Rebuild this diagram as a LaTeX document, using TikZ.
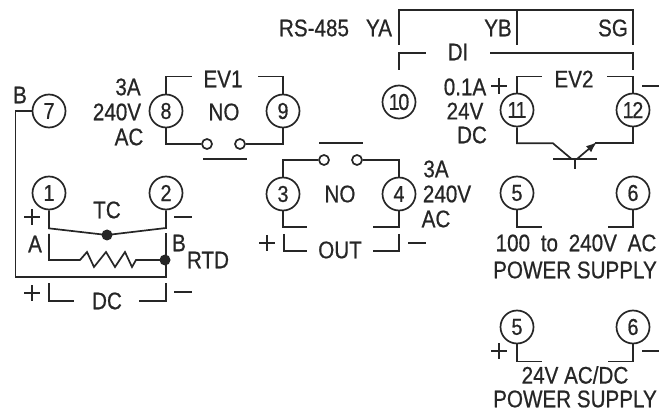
\documentclass[tikz,border=0pt]{standalone}
\usepackage{fontspec}
\usetikzlibrary{arrows.meta}
\setmainfont[FakeStretch=0.86,FakeBold=0.6]{Liberation Sans}
\tikzset{
  wire/.style={line width=1.7pt,draw=black!85,line join=miter},
  term/.style={circle,draw=black!85,line width=1.7pt,minimum size=33pt,inner sep=0pt,font=\fontsize{23}{23}\selectfont,text=black!85},
  tight/.style={font=\fontsize{23}{23}\selectfont\addfontfeatures{LetterSpace=-6}},
  contact/.style={circle,draw=black!85,line width=1.7pt,minimum size=10pt,inner sep=0pt},
  dotnode/.style={circle,fill=black!85,minimum size=11pt,inner sep=0pt},
  lab/.style={inner sep=0pt,font=\fontsize{24}{24}\selectfont,text=black!85},
  plusmark/.style={insert path={++(-8,0) -- ++(16,0) ++(-8,-8) -- ++(0,16)}},
}
\begin{document}
\begin{tikzpicture}[x=1pt,y=-1pt]
\useasboundingbox (0,0) rectangle (660,411);
% terminals
\node[term] (n7) at (49,111) {7};
\node[term] (n8) at (166,111) {8};
\node[term] (n9) at (283,111) {9};
\node[term,tight] (n10) at (399,102) {10};
\node[term,tight] (n11) at (517,110) {11};
\node[term,tight] (n12) at (633,110) {12};
\node[term] (n1) at (49,193) {1};
\node[term] (n2) at (166,193) {2};
\node[term] (n3) at (283,194) {3};
\node[term] (n4) at (399,194) {4};
\node[term] (n5) at (517,193) {5};
\node[term] (n6) at (633,193) {6};
\node[term] (m5) at (517,327) {5};
\node[term] (m6) at (633,327) {6};
% contacts and dots
\node[contact] (ca) at (207,144) {};
\node[contact] (cb) at (240,144) {};
\node[contact] (cc) at (324,160) {};
\node[contact] (cd) at (357,160) {};
\node[dotnode] (dtc) at (107,235) {};
\node[dotnode] (drtd) at (165,260) {};
% labels
\node[lab] at (314,28) {RS-485};
\node[lab] at (379,28) {YA};
\node[lab] at (498,28) {YB};
\node[lab] at (613,28) {SG};
\node[lab] at (458,52) {DI};
\node[lab] at (465,87) {0.1A};
\node[lab] at (465,111) {24V};
\node[lab] at (472,135) {DC};
\node[lab] at (574,79) {EV2};
\node[lab] at (436,169) {3A};
\node[lab] at (447,194) {240V};
\node[lab] at (436,219) {AC};
\node[lab] at (340,194) {NO};
\node[lab] at (340,250) {OUT};
\node[lab] at (576,243) {100\hspace{5pt} to\hspace{5pt} 240V\hspace{5pt} AC};
\node[lab] at (575,270) {POWER SUPPLY};
\node[lab] at (575,375) {24V AC/DC};
\node[lab] at (575,399) {POWER SUPPLY};
\node[lab] at (20,95) {B};
\node[lab] at (128,87) {3A};
\node[lab] at (117,112) {240V};
\node[lab] at (129,137) {AC};
\node[lab] at (223,79) {EV1};
\node[lab] at (224,112) {NO};
\node[lab] at (107,210) {TC};
\node[lab] at (35,244) {A};
\node[lab] at (179,243) {B};
\node[lab] at (208,260) {RTD};
\node[lab] at (107,301) {DC};
% polarity marks
\draw[wire] (32,217) [plusmark];
\draw[wire] (32,293) [plusmark];
\draw[wire] (267,243) [plusmark];
\draw[wire] (499,86) [plusmark];
\draw[wire] (499,351) [plusmark];
\draw[wire] (174,217) -- (192,217);
\draw[wire] (174,292) -- (192,292);
\draw[wire] (408,243) -- (426,243);
\draw[wire] (642,86) -- (659,86);
\draw[wire] (642,351) -- (659,351);
% RS-485 and DI
\draw[wire] (399,45) -- (399,10) -- (633,10) -- (633,45);
\draw[wire] (517,10) -- (517,45);
\draw[wire] (399,70) -- (399,53) -- (426,53);
\draw[wire] (490,53) -- (633,53) -- (633,70);
% EV2
\draw[wire] (n11.north) -- ++(0,-16) -- ++(25,0);
\draw[wire] (n12.north) -- ++(0,-16) -- ++(-26,0);
\draw[wire] (n11.south) -- ++(0,16) -- ++(36,0) -- ++(19,16);
\draw[wire] (n12.south) -- ++(0,16) -- ++(-38,0);
\draw[wire] (553,159) -- (597,159);
\draw[wire] (575,159) -- (575,169);
\draw[wire,-{Latex[length=11pt,width=8pt]}] (577,159) -- (597,142);
% EV1
\draw[wire] (n8.north) -- ++(0,-17) -- ++(26,0);
\draw[wire] (n9.north) -- ++(0,-17) -- ++(-25,0);
\draw[wire] (n8.south) |- (ca.west);
\draw[wire] (n9.south) |- (cb.east);
\draw[wire] (203,159) -- (247,159);
% NO contact
\draw[wire] (n3.north) |- (cc.west);
\draw[wire] (n4.north) |- (cd.east);
\draw[wire] (319,143) -- (363,143);
% OUT
\draw[wire] (n3.south) -- ++(0,16) -- ++(24,0);
\draw[wire] (n4.south) -- ++(0,16) -- ++(-26,0);
\draw[wire] (284,234) -- (284,251) -- (307,251);
\draw[wire] (399,234) -- (399,251) -- (373,251);
% power supplies
\draw[wire] (n5.south) -- ++(0,17) -- ++(25,0);
\draw[wire] (n6.south) -- ++(0,17) -- ++(-25,0);
\draw[wire] (m5.south) -- ++(0,17) -- ++(25,0);
\draw[wire] (m6.south) -- ++(0,17) -- ++(-25,0);
% TC / RTD / DC
\draw[wire] (n1.south) -- ++(0,18) -- (dtc.center) -- (166,228) -- (n2.south);
\draw[wire] (49,234) -- (49,260) -- (80,260) -- (87,252) -- (94,267) -- (106,252) -- (115,267) -- (125,252) -- (132,267) -- (136,260) -- (drtd.center);
\draw[wire] (n7.west) -- (15.5,111) -- (15.5,277) -- (166,277) -- (166,233);
\draw[wire] (49,283) -- (49,301) -- (74,301);
\draw[wire] (166,283) -- (166,301) -- (139,301);
\end{tikzpicture}
\end{document}
